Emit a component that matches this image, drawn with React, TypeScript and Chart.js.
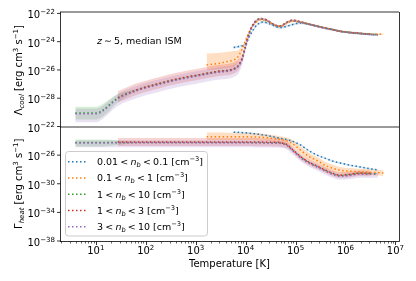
import React, { useEffect, useRef } from 'react';
import { Chart, registerables } from 'chart.js';

Chart.register(...registerables);

// ---------------- data (log10 values) ----------------
// temperature grids, log10(T [K])
const logT_low = [0.59, 1.01, 1.14, 1.44, 1.84, 2.24, 2.64, 3.04, 3.44, 3.82, 3.92, 3.99, 4.09, 4.19, 4.31, 4.44, 4.56, 4.69, 4.83, 4.93, 5.10, 5.26, 5.43, 5.60, 5.75, 5.89, 6.09, 6.29, 6.49, 6.65];
const logT_red = [1.44, 1.84, 2.24, 2.64, 3.04, 3.44, 3.82, 3.92, 3.99, 4.09, 4.19, 4.31, 4.44, 4.56, 4.69, 4.83, 4.93, 5.10, 5.26, 5.43, 5.60, 5.75, 5.89, 6.09, 6.29, 6.49];
const logT_orange = [3.22, 3.44, 3.64, 3.76, 3.84, 3.92, 3.99, 4.09, 4.19, 4.31, 4.44, 4.56, 4.69, 4.83, 4.93, 5.10, 5.26, 5.43, 5.60, 5.75, 5.89, 6.09, 6.29, 6.49, 6.65, 6.76];
const logT_blue = [3.76, 3.84, 3.92, 3.99, 4.09, 4.22, 4.36, 4.49, 4.69, 4.89, 5.09, 5.26, 5.43, 5.60, 5.75, 5.89, 6.09, 6.29, 6.49, 6.63];

// cooling rate, log10(Lambda_cool)
const coolBlue = [-24.41, -24.36, -24.3, -24.2, -23.54, -22.84, -22.61, -22.75, -23.0, -22.84, -22.68, -22.76, -22.9, -23.04, -23.15, -23.26, -23.35, -23.42, -23.48, -23.5];
const coolBlueLo = [-24.49, -24.44, -24.38, -24.28, -23.62, -22.92, -22.69, -22.83, -23.08, -22.92, -22.76, -22.84, -22.98, -23.12, -23.23, -23.34, -23.43, -23.5, -23.56, -23.58];
const coolBlueHi = [-24.33, -24.28, -24.22, -24.12, -23.46, -22.76, -22.53, -22.67, -22.92, -22.76, -22.6, -22.68, -22.82, -22.96, -23.07, -23.18, -23.27, -23.34, -23.4, -23.42];

const coolOrange = [-25.65, -25.55, -25.4, -25.3, -25.1, -24.6, -24.0, -23.2, -22.7, -22.45, -22.55, -22.8, -22.92, -22.7, -22.55, -22.62, -22.75, -22.9, -23.04, -23.15, -23.26, -23.35, -23.41, -23.46, -23.48, -23.47];
const coolOrangeLo = [-26.0, -25.95, -25.85, -25.75, -25.5, -24.9, -24.15, -23.3, -22.77, -22.51, -22.61, -22.86, -22.98, -22.76, -22.61, -22.68, -22.81, -22.96, -23.1, -23.21, -23.32, -23.41, -23.47, -23.52, -23.54, -23.53];
const coolOrangeHi = [-24.83, -24.8, -24.72, -24.66, -24.62, -24.4, -23.85, -23.1, -22.63, -22.39, -22.49, -22.74, -22.86, -22.64, -22.49, -22.56, -22.69, -22.84, -22.98, -23.09, -23.2, -23.29, -23.35, -23.4, -23.42, -23.41];

const coolGreen = [-29.05, -29.05, -28.85, -27.98, -27.4, -27.0, -26.65, -26.38, -26.12, -25.82, -25.3, -24.45, -23.25, -22.6, -22.37, -22.5, -22.78, -22.9, -22.62, -22.49, -22.6, -22.75, -22.9, -23.04, -23.15, -23.26, -23.35, -23.41, -23.47, -23.5];
const coolGreenLo = [-29.5, -29.5, -29.3, -28.3, -27.47, -27.07, -26.72, -26.45, -26.19, -25.89, -25.38, -24.52, -23.3, -22.65, -22.42, -22.55, -22.83, -22.95, -22.67, -22.54, -22.65, -22.8, -22.95, -23.09, -23.2, -23.31, -23.4, -23.46, -23.52, -23.55];
const coolGreenHi = [-28.6, -28.6, -28.4, -27.7, -27.33, -26.93, -26.58, -26.31, -26.05, -25.75, -25.22, -24.38, -23.2, -22.55, -22.32, -22.45, -22.73, -22.85, -22.57, -22.44, -22.55, -22.7, -22.85, -22.99, -23.1, -23.21, -23.3, -23.36, -23.42, -23.45];

const coolRed = [-27.96, -27.38, -26.98, -26.63, -26.36, -26.1, -25.8, -25.25, -24.4, -23.2, -22.58, -22.36, -22.49, -22.77, -22.9, -22.62, -22.48, -22.6, -22.75, -22.9, -23.04, -23.15, -23.26, -23.35, -23.41, -23.47];
const coolRedLo = [-28.31, -27.73, -27.33, -26.98, -26.71, -26.45, -26.15, -25.55, -24.6, -23.3, -22.65, -22.42, -22.55, -22.83, -22.96, -22.68, -22.54, -22.66, -22.81, -22.96, -23.1, -23.21, -23.32, -23.41, -23.47, -23.53];
const coolRedHi = [-27.51, -26.93, -26.53, -26.18, -25.91, -25.65, -25.35, -24.95, -24.2, -23.1, -22.51, -22.3, -22.43, -22.71, -22.84, -22.56, -22.42, -22.54, -22.69, -22.84, -22.98, -23.09, -23.2, -23.29, -23.35, -23.41];

const coolPurple = [-29.1, -29.1, -28.9, -28.03, -27.45, -27.05, -26.7, -26.43, -26.17, -25.87, -25.38, -24.55, -23.3, -22.63, -22.39, -22.52, -22.8, -22.92, -22.64, -22.51, -22.62, -22.77, -22.92, -23.06, -23.17, -23.28, -23.37, -23.43, -23.49, -23.52];
const coolPurpleLo = [-29.7, -29.7, -29.45, -28.55, -27.97, -27.57, -27.22, -26.95, -26.69, -26.39, -25.75, -24.8, -23.42, -22.7, -22.45, -22.58, -22.86, -22.98, -22.7, -22.57, -22.68, -22.83, -22.98, -23.12, -23.23, -23.34, -23.43, -23.49, -23.55, -23.58];
const coolPurpleHi = [-28.75, -28.75, -28.55, -27.7, -27.1, -26.7, -26.35, -26.08, -25.82, -25.52, -25.1, -24.35, -23.18, -22.56, -22.33, -22.46, -22.74, -22.86, -22.58, -22.45, -22.56, -22.71, -22.86, -23.0, -23.11, -23.22, -23.31, -23.37, -23.43, -23.46];

// heating rate, log10(Gamma_heat)
const heatBlue = [-22.8, -22.82, -22.85, -22.88, -22.95, -23.05, -23.2, -23.35, -23.65, -23.95, -24.55, -25.35, -26.0, -26.45, -26.85, -27.1, -27.4, -27.65, -27.9, -28.05];
const heatBlueLo = [-22.9, -22.92, -22.95, -22.98, -23.05, -23.15, -23.3, -23.45, -23.75, -24.05, -24.65, -25.45, -26.1, -26.55, -26.95, -27.2, -27.5, -27.75, -28.0, -28.15];
const heatBlueHi = [-22.7, -22.72, -22.75, -22.78, -22.85, -22.95, -23.1, -23.25, -23.55, -23.85, -24.45, -25.25, -25.9, -26.35, -26.75, -27.0, -27.3, -27.55, -27.8, -27.95];

const heatOrange = [-23.42, -23.42, -23.42, -23.43, -23.43, -23.44, -23.44, -23.45, -23.46, -23.5, -23.58, -23.68, -23.8, -24.0, -24.35, -25.3, -26.15, -26.75, -27.45, -27.85, -28.1, -28.25, -28.33, -28.4, -28.45, -28.5];
const heatOrangeLo = [-23.87, -23.87, -23.87, -23.88, -23.88, -23.89, -23.89, -23.9, -23.91, -23.95, -24.03, -24.13, -24.25, -24.45, -24.85, -25.8, -26.65, -27.25, -27.95, -28.35, -28.55, -28.7, -28.75, -28.8, -28.85, -28.9];
const heatOrangeHi = [-22.85, -22.85, -22.86, -22.87, -22.87, -22.88, -22.88, -22.9, -22.92, -22.98, -23.08, -23.2, -23.35, -23.55, -23.85, -24.8, -25.65, -26.25, -26.95, -27.35, -27.65, -27.8, -27.9, -27.97, -28.05, -28.1];

const heatGreen = [-24.25, -24.25, -24.24, -24.22, -24.22, -24.22, -24.22, -24.22, -24.22, -24.22, -24.22, -24.22, -24.23, -24.24, -24.25, -24.26, -24.27, -24.3, -24.6, -25.2, -26.25, -27.0, -27.57, -28.15, -28.6, -28.85, -28.75, -28.55, -28.6, -28.6];
const heatGreenLo = [-24.8, -24.8, -24.79, -24.6, -24.29, -24.29, -24.29, -24.29, -24.29, -24.29, -24.29, -24.29, -24.3, -24.31, -24.32, -24.33, -24.34, -24.37, -24.67, -25.27, -26.32, -27.07, -27.64, -28.22, -28.67, -28.92, -28.82, -28.62, -28.67, -28.67];
const heatGreenHi = [-23.83, -23.83, -23.82, -23.95, -24.15, -24.15, -24.15, -24.15, -24.15, -24.15, -24.15, -24.15, -24.16, -24.17, -24.18, -24.19, -24.2, -24.23, -24.53, -25.13, -26.18, -26.93, -27.5, -28.08, -28.53, -28.78, -28.68, -28.48, -28.53, -28.53];

const heatRed = [-24.15, -24.15, -24.15, -24.15, -24.15, -24.15, -24.15, -24.15, -24.15, -24.16, -24.17, -24.18, -24.19, -24.2, -24.25, -24.55, -25.15, -26.2, -26.95, -27.52, -28.1, -28.55, -28.8, -28.7, -28.5, -28.55];
const heatRedLo = [-24.73, -24.73, -24.73, -24.73, -24.73, -24.73, -24.73, -24.73, -24.73, -24.74, -24.75, -24.76, -24.77, -24.78, -24.83, -25.05, -25.55, -26.6, -27.35, -27.92, -28.5, -28.95, -29.2, -29.1, -28.9, -28.95];
const heatRedHi = [-23.6, -23.6, -23.6, -23.6, -23.6, -23.6, -23.6, -23.6, -23.6, -23.61, -23.62, -23.63, -23.64, -23.65, -23.7, -24.1, -24.75, -25.8, -26.55, -27.12, -27.7, -28.15, -28.4, -28.3, -28.1, -28.15];

const heatPurple = [-24.3, -24.3, -24.3, -24.28, -24.28, -24.28, -24.28, -24.28, -24.28, -24.28, -24.28, -24.28, -24.29, -24.3, -24.31, -24.32, -24.33, -24.36, -24.68, -25.3, -26.35, -27.1, -27.65, -28.25, -28.7, -28.95, -28.85, -28.65, -28.68, -28.68];
const heatPurpleLo = [-24.9, -24.9, -24.9, -24.9, -24.9, -24.9, -24.9, -24.9, -24.9, -24.9, -24.9, -24.9, -24.91, -24.92, -24.93, -24.94, -24.95, -24.98, -25.25, -25.85, -26.85, -27.6, -28.15, -28.75, -29.2, -29.45, -29.35, -29.15, -29.15, -29.15];
const heatPurpleHi = [-23.95, -23.95, -23.95, -23.93, -23.93, -23.93, -23.93, -23.93, -23.93, -23.93, -23.93, -23.93, -23.94, -23.95, -23.96, -23.97, -23.98, -24.01, -24.33, -24.95, -26.0, -26.75, -27.3, -27.9, -28.35, -28.6, -28.5, -28.3, -28.35, -28.35];

// legend density ranges
const rangeLo = ['0.01', '0.1', '1', '1', '3'];
const rangeHi = ['0.1', '1', '10', '3', '10'];

// axis tick exponents
const xTickExp = [1, 2, 3, 4, 5, 6, 7];
const yTopTickExp = [-22, -24, -26, -28];
const yBotTickExp = [-22, -26, -30, -34, -38];

// ---------------- styling ----------------
const COLORS = ['#1f77b4', '#ff7f0e', '#2ca02c', '#d62728', '#9467bd'];
const FILLS = ['rgba(31,119,180,0.2)', 'rgba(255,127,14,0.25)', 'rgba(44,160,44,0.2)', 'rgba(214,39,40,0.2)', 'rgba(148,103,189,0.2)'];

const SERIES = [
  { logT: logT_blue, cool: [coolBlue, coolBlueLo, coolBlueHi], heat: [heatBlue, heatBlueLo, heatBlueHi] },
  { logT: logT_orange, cool: [coolOrange, coolOrangeLo, coolOrangeHi], heat: [heatOrange, heatOrangeLo, heatOrangeHi] },
  { logT: logT_low, cool: [coolGreen, coolGreenLo, coolGreenHi], heat: [heatGreen, heatGreenLo, heatGreenHi] },
  { logT: logT_red, cool: [coolRed, coolRedLo, coolRedHi], heat: [heatRed, heatRedLo, heatRedHi] },
  { logT: logT_low, cool: [coolPurple, coolPurpleLo, coolPurpleHi], heat: [heatPurple, heatPurpleLo, heatPurpleHi] },
];

const FAM = "'DejaVu Sans'";
type Seg = { t?: string; s?: string; g?: number };

function setFont(ctx: CanvasRenderingContext2D, s: string | undefined, size: number) {
  const small = s === 'sup' || s === 'sub' || s === 'subi';
  const ital = s === 'i' || s === 'subi';
  const sz = small ? size * 0.7 : size;
  ctx.font = `${ital ? 'italic ' : ''}${sz}px ${FAM}`;
}
function richWidth(ctx: CanvasRenderingContext2D, segs: Seg[], size: number) {
  let w = 0;
  for (const sg of segs) {
    if (sg.g !== undefined) { w += sg.g; continue; }
    setFont(ctx, sg.s, size);
    w += ctx.measureText(sg.t || '').width;
  }
  return w;
}
function drawRich(ctx: CanvasRenderingContext2D, segs: Seg[], x: number, y: number, size: number, align: string) {
  const w = richWidth(ctx, segs, size);
  let cx = align === 'left' ? x : align === 'right' ? x - w : x - w / 2;
  ctx.textAlign = 'left';
  ctx.textBaseline = 'alphabetic';
  for (const sg of segs) {
    if (sg.g !== undefined) { cx += sg.g; continue; }
    setFont(ctx, sg.s, size);
    let dy = 0;
    if (sg.s === 'sup') dy = -size * 0.42;
    if (sg.s === 'sub' || sg.s === 'subi') dy = size * 0.2;
    ctx.fillText(sg.t || '', cx, y + dy);
    cx += ctx.measureText(sg.t || '').width;
  }
}
function line(ctx: CanvasRenderingContext2D, x1: number, y1: number, x2: number, y2: number) {
  ctx.beginPath();
  ctx.moveTo(x1, y1);
  ctx.lineTo(x2, y2);
  ctx.stroke();
}
const pow10 = (e: number) => Math.pow(10, e);

const decor = {
  id: 'decor',
  afterDraw(chart: any) {
    const ctx: CanvasRenderingContext2D = chart.ctx;
    const xs = chart.scales.x, yT = chart.scales.yTop, yB = chart.scales.yBot;
    const L = xs.left, R = xs.right, T = yT.top, M = yT.bottom, B = yB.bottom;
    ctx.save();
    ctx.fillStyle = '#000';
    ctx.strokeStyle = '#000';
    // spines
    ctx.lineWidth = 0.8;
    line(ctx, L, T, R, T);
    line(ctx, L, M + 0.5, R, M + 0.5);
    line(ctx, L, B + 0.5, R + 0.5, B + 0.5);
    line(ctx, L + 0.5, T, L + 0.5, B + 0.5);
    line(ctx, R + 0.5, T, R + 0.5, B + 0.5);

    // x ticks (major + minor)
    for (let k = 0; k <= 7; k++) {
      for (let m = 1; m <= 9; m++) {
        const v = m * pow10(k);
        if (v < xs.min || v > xs.max) continue;
        const px = Math.round(xs.getPixelForValue(v)) + 0.5;
        ctx.lineWidth = m === 1 ? 0.8 : 0.6;
        line(ctx, px, B + 0.5, px, B + 0.5 + (m === 1 ? 3.5 : 2));
      }
    }
    for (const e of xTickExp) {
      const px = xs.getPixelForValue(pow10(e));
      drawRich(ctx, [{ t: '10' }, { t: String(e), s: 'sup' }], px, 254, 10, 'center');
    }
    // y ticks
    ctx.lineWidth = 0.8;
    const yTicks = (sc: any, exps: number[]) => {
      for (const e of exps) {
        const py = sc.getPixelForValue(pow10(e));
        line(ctx, L + 0.5 - 3.5, py, L + 0.5, py);
        drawRich(ctx, [{ t: '10' }, { t: '\u2212' + String(-e), s: 'sup' }], 55, py + 5, 10, 'right');
      }
    };
    yTicks(yT, yTopTickExp);
    yTicks(yB, yBotTickExp);

    // axis titles
    drawRich(ctx, [{ t: 'Temperature [K]' }], (L + R) / 2, 267, 10, 'center');
    ctx.save();
    ctx.translate(22, (T + M) / 2 + 1);
    ctx.rotate(-Math.PI / 2);
    drawRich(ctx, [{ t: '\u039B' }, { t: 'cool', s: 'subi' }, { t: ' [erg cm' }, { t: '3', s: 'sup' }, { t: ' s' }, { t: '\u22121', s: 'sup' }, { t: ']' }], 0, 0, 10, 'center');
    ctx.restore();
    ctx.save();
    ctx.translate(22, (M + B) / 2);
    ctx.rotate(-Math.PI / 2);
    drawRich(ctx, [{ t: '\u0393' }, { t: 'heat', s: 'subi' }, { t: ' [erg cm' }, { t: '3', s: 'sup' }, { t: ' s' }, { t: '\u22121', s: 'sup' }, { t: ']' }], 0, 0, 10, 'center');
    ctx.restore();

    // annotation
    drawRich(ctx, [{ t: 'z', s: 'i' }, { g: 2 }, { t: '\u223C' }, { g: 2 }, { t: '5, median ISM' }], 97, 44, 9.5, 'left');

    // legend
    const lx = 65.5, ly = 151.5, lw = 142, lh = 84.5;
    ctx.beginPath();
    (ctx as any).roundRect(lx, ly, lw, lh, 3);
    ctx.fillStyle = 'rgba(255,255,255,0.8)';
    ctx.fill();
    ctx.strokeStyle = '#cccccc';
    ctx.lineWidth = 1;
    ctx.stroke();
    for (let i = 0; i < 5; i++) {
      const cy = 161.7 + i * 16.25;
      ctx.strokeStyle = COLORS[i];
      ctx.lineWidth = 1.5;
      ctx.setLineDash([1.5, 2.5]);
      line(ctx, 68, cy, 88, cy);
      ctx.setLineDash([]);
      ctx.fillStyle = '#000';
      drawRich(ctx, [
        { t: rangeLo[i] }, { g: 2.2 }, { t: '<' }, { g: 2.2 }, { t: 'n', s: 'i' }, { t: 'b', s: 'subi' },
        { g: 2.2 }, { t: '<' }, { g: 2.2 }, { t: rangeHi[i] + ' [cm' }, { t: '\u22123', s: 'sup' }, { t: ']' },
      ], 97, cy + 3.5, 9.5, 'left');
    }
    ctx.restore();
  },
};

export default function App() {
  const ref = useRef<HTMLCanvasElement>(null);
  useEffect(() => {
    document.body.style.margin = '0';
    const canvas = ref.current!;
    const datasets: any[] = [];
    SERIES.forEach((s, i) => {
      (['cool', 'heat'] as const).forEach((panel) => {
        const axis = panel === 'cool' ? 'yTop' : 'yBot';
        const [mid, lo, hi] = s[panel];
        const pts = (arr: number[]) => s.logT.map((lt, j) => ({ x: pow10(lt), y: pow10(arr[j]) }));
        const common = { yAxisID: axis, xAxisID: 'x', pointRadius: 0, cubicInterpolationMode: 'monotone', order: 20 - i };
        datasets.push({ ...common, data: pts(hi), borderColor: 'rgba(0,0,0,0)', borderWidth: 0.01, fill: false });
        datasets.push({ ...common, data: pts(lo), borderColor: 'rgba(0,0,0,0)', borderWidth: 0.01, fill: '-1', backgroundColor: FILLS[i] });
        datasets.push({ ...common, data: pts(mid), borderColor: COLORS[i], borderWidth: 1.5, borderDash: [1.5, 2.5], borderCapStyle: 'butt', fill: false });
      });
    });
    const hidden = { display: false };
    const chart = new Chart(canvas, {
      type: 'line',
      data: { datasets },
      options: {
        animation: false,
        responsive: false,
        events: [],
        layout: { padding: { left: 0, top: 12, right: 17, bottom: 0 }, autoPadding: false },
        plugins: { legend: hidden, tooltip: { enabled: false }, filler: { drawTime: 'beforeDatasetsDraw' } },
        scales: {
          x: {
            type: 'logarithmic', min: 1.92, max: 1.18e7,
            ticks: hidden, grid: hidden, border: hidden,
            afterFit: (sc: any) => { sc.height = 40; },
          },
          // bottom panel declared first: Chart.js stacks later-declared axes on top
          yBot: {
            type: 'logarithmic', position: 'left', stack: 'panels', min: 1e-38, max: 1e-22,
            ticks: hidden, grid: hidden, border: hidden,
            afterFit: (sc: any) => { sc.width = 60; },
          },
          yTop: {
            type: 'logarithmic', position: 'left', stack: 'panels', min: 1e-30, max: pow10(-21.9),
            ticks: hidden, grid: hidden, border: hidden,
            afterFit: (sc: any) => { sc.width = 60; },
          },
        },
      } as any,
      plugins: [decor],
    });
    return () => chart.destroy();
  }, []);
  return (
    <canvas ref={ref} width={416} height={281} style={{ display: 'block', position: 'fixed', left: 0, top: 0 }} />
  );
}
